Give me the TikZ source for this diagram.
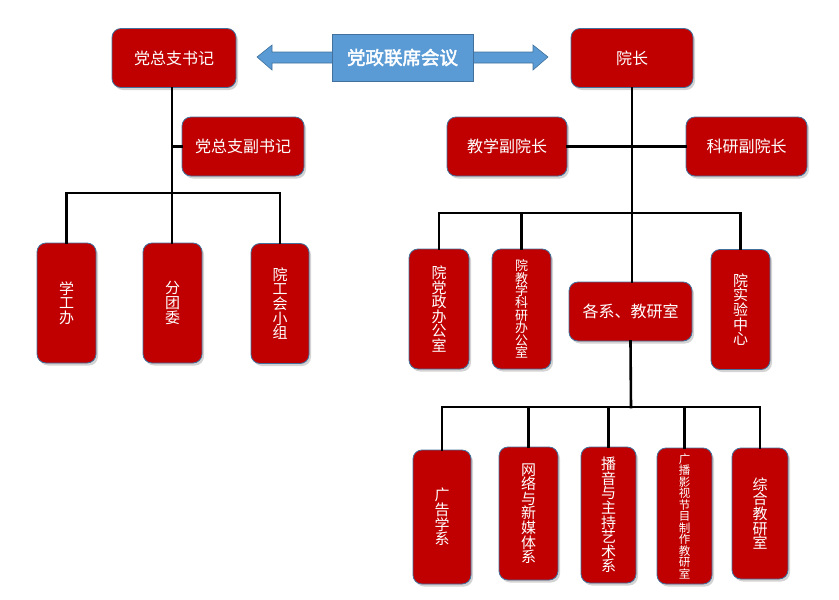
\documentclass[tikz,border=0pt]{standalone}
\usepackage{fontspec}
\newfontfamily\cjk{Noto Sans CJK SC}
\newfontfamily\cjkb[FakeBold=2.5]{Noto Sans CJK SC}
\usetikzlibrary{shadows,calc}
\definecolor{boxred}{HTML}{C00000}
\definecolor{boxedge}{HTML}{41719C}
\definecolor{meetblue}{HTML}{5B9BD5}

% tight stacked text for the tall boxes
\newcommand\stackfont[2]{\cjk\fontsize{#1}{#2}\selectfont\lineskiplimit=-20pt}

\tikzset{
  unit/.style={draw=boxedge, line width=0.8pt, fill=boxred, rounded corners=9pt,
    text=white, inner sep=0pt, align=center,
    drop shadow={shadow xshift=2pt, shadow yshift=-2.5pt, opacity=0.35},
    font=\cjk\fontsize{16}{18}\selectfont},
  wide/.style={unit, minimum width=122pt, minimum height=59pt},
  tall/.style={unit, minimum width=59pt, minimum height=120pt, font=\stackfont{15}{14.6}},
  tallb/.style={tall, minimum width=57pt, minimum height=134pt},
  link/.style={line width=2.6pt, line cap=rect},
}

\begin{document}
\begin{tikzpicture}[x=1pt, y=-1pt]
  \useasboundingbox (0,0) rectangle (839,600);
  % top row
  \node[wide, minimum width=124pt] (shuji) at (174,58) {党总支书记};
  \node[wide] (yuanzhang) at (632,58) {院长};
  % meeting arrow
  \fill[meetblue, draw=boxedge, line width=0.6pt]
    (257,57) -- (272,45) -- (272,52) -- (533,52) -- (533,45) -- (548,57)
    -- (533,70) -- (533,63) -- (272,63) -- (272,70) -- cycle;
  \node[draw=boxedge, line width=0.6pt, fill=meetblue, text=white, minimum width=141pt,
    minimum height=47pt, inner sep=0pt, font=\cjkb\fontsize{18.5}{20}\selectfont]
    (lianxi) at (402.5,57.5) {党政联席会议};

  % left branch
  \node[wide] (fushuji) at (243,146.5) {党总支副书记};
  \node[tall] (xuegong) at (66.5,303) {学\\工\\办};
  \node[tall] (tuanwei) at (172.5,303) {分\\团\\委};
  \node[tall, minimum width=58pt] (gonghui) at (280,303.5) {院\\工\\会\\小\\组};
  \coordinate (lbus) at (172,193);

  % right branch
  \node[wide, minimum width=120pt] (jiaoxue) at (507,146.5) {教学副院长};
  \node[wide, minimum width=121pt] (keyan) at (746.5,146.5) {科研副院长};
  \node[tall, minimum width=60pt] (dangzheng) at (439,309) {院\\党\\政\\办\\公\\室};
  \node[tall, font=\stackfont{13}{12.4}] (jkban) at (521.5,309) {院\\教\\学\\科\\研\\办\\公\\室};
  \node[wide, minimum width=123pt] (gexi) at (630.5,311.5) {各系、教研室};
  \node[tall] (shiyan) at (740.5,309.5) {院\\实\\验\\中\\心};
  \coordinate (rbus) at (631,213);

  % departments
  \node[tallb, minimum width=58pt] (guanggao) at (442,517) {广\\告\\学\\系};
  \node[tallb, minimum width=59pt, minimum height=133pt] (wangluo) at (528.5,513.5) {网\\络\\与\\新\\媒\\体\\系};
  \node[tallb, minimum width=55pt, minimum height=136pt] (boyin) at (608.5,515) {播\\音\\与\\主\\持\\艺\\术\\系};
  \node[tallb, minimum width=55pt, minimum height=136pt, font=\stackfont{11.5}{11.5}]
    (yingshi) at (684.5,516) {广\\播\\影\\视\\节\\目\\制\\作\\教\\研\\室};
  \node[tallb, minimum width=56pt, minimum height=131pt] (zonghe) at (760,513.5) {综\\合\\教\\研\\室};
  \coordinate (bbus) at (631,407);

  % connectors
  \begin{scope}[link]
    \draw (shuji.south -| lbus) -- (tuanwei.north -| lbus);
    \draw (fushuji.west) -- (fushuji.west -| lbus);
    \draw (xuegong.north) |- (lbus) -| (gonghui.north);
    \draw (yuanzhang.south) -- (gexi.north -| yuanzhang.south);
    \draw (jiaoxue.east) -- (keyan.west);
    \draw (dangzheng.north) |- (rbus) -| (shiyan.north);
    \draw (jkban.north) -- (jkban.north |- rbus);
    \draw (gexi.south) -- (bbus);
    \draw (guanggao.north) |- (bbus) -| (zonghe.north);
    \draw (wangluo.north) -- (wangluo.north |- bbus);
    \draw (boyin.north) -- (boyin.north |- bbus);
    \draw (yingshi.north) -- (yingshi.north |- bbus);
  \end{scope}
\end{tikzpicture}
\end{document}
